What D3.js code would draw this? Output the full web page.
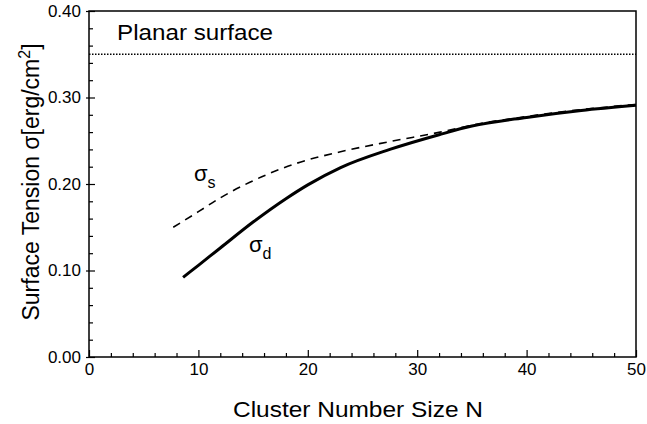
<!DOCTYPE html>
<head>
    <meta charset="utf-8">
    <script src="https://d3js.org/d3.v7.min.js"></script>
    <style>
        body { margin: 0; background: #fff; }
        text { font-family: 'Liberation Sans', Arial, sans-serif; fill: #000; }
    </style>
</head>
<body>
<script>
    // values
    var sigmaD_N = [8.6, 10, 12, 15, 18, 20, 23, 27.5, 32, 35, 40, 45, 50];
    var sigmaD = [0.092, 0.106, 0.126, 0.156, 0.183, 0.199, 0.219, 0.240, 0.257, 0.267, 0.277, 0.285, 0.291];
    var sigmaS_N = [7.7, 10, 12.0, 14.7, 19.0, 22.9, 27.5, 32.1, 35, 40, 45, 50];
    var sigmaS = [0.150, 0.168, 0.184, 0.202, 0.224, 0.237, 0.249, 0.260, 0.268, 0.278, 0.286, 0.292];
    var planar = 0.35;
    var xTicks = [0, 10, 20, 30, 40, 50];
    var yTicks = [0, 0.1, 0.2, 0.3, 0.4];

    var width = 647, height = 424;
    var mLeft = 89, mRight = 636, mTop = 11, mBottom = 357;

    var svg = d3.select("body").append("svg")
        .attr("width", width)
        .attr("height", height);

    var x = d3.scaleLinear().domain([0, 50]).range([mLeft, mRight]);
    var y = d3.scaleLinear().domain([0, 0.4]).range([mBottom, mTop]);

    // frame
    svg.append("rect")
        .attr("x", mLeft).attr("y", mTop)
        .attr("width", mRight - mLeft).attr("height", mBottom - mTop)
        .attr("fill", "none").attr("stroke", "#000").attr("stroke-width", 1.5);

    // bottom axis (ticks inside)
    var xAxis = svg.append("g").attr("transform", "translate(0," + mBottom + ")")
        .call(d3.axisBottom(x).tickValues(xTicks).tickSize(-7).tickPadding(6).tickFormat(d3.format("d")));
    svg.append("g").attr("transform", "translate(0," + mBottom + ")")
        .call(d3.axisBottom(x).tickValues(d3.range(2, 50, 2).filter(function (d) { return d % 10; }))
            .tickSize(-4).tickFormat(""))
        .select(".domain").remove();
    xAxis.select(".domain").remove();
    xAxis.selectAll("text").style("font-size", "17px").style("font-family", "'Liberation Sans', Arial, sans-serif");

    // left axis
    var yAxis = svg.append("g").attr("transform", "translate(" + mLeft + ",0)")
        .call(d3.axisLeft(y).tickValues(yTicks).tickSize(4).tickPadding(4).tickFormat(d3.format(".2f")));
    yAxis.selectAll(".tick line").attr("x2", 6).attr("x1", -3);
    yAxis.select(".domain").remove();
    yAxis.selectAll("text").style("font-size", "17px").style("font-family", "'Liberation Sans', Arial, sans-serif");
    svg.append("g").attr("transform", "translate(" + mLeft + ",0)")
        .call(d3.axisLeft(y).tickValues(d3.range(0.02, 0.4, 0.02).filter(function (d) { return Math.round(d * 100) % 10; }))
            .tickSize(-4).tickFormat(""))
        .select(".domain").remove();

    svg.selectAll(".tick line").attr("stroke-width", 1.2);

    // planar surface line
    svg.append("line")
        .attr("x1", mLeft).attr("x2", mRight)
        .attr("y1", y(planar)).attr("y2", y(planar))
        .attr("stroke", "#000").attr("stroke-width", 1.5)
        .attr("stroke-dasharray", "1.5,1.5");
    svg.append("text").attr("x", 117).attr("y", 40)
        .attr("textLength", 156).attr("lengthAdjust", "spacingAndGlyphs")
        .style("font-size", "22px").text("Planar surface");

    var line = d3.line().curve(d3.curveMonotoneX)
        .x(function (d) { return x(d[0]); })
        .y(function (d) { return y(d[1]); });

    svg.append("path")
        .datum(d3.zip(sigmaS_N, sigmaS))
        .attr("d", line)
        .attr("fill", "none").attr("stroke", "#000").attr("stroke-width", 1.6)
        .attr("stroke-dasharray", "8,6");

    svg.append("path")
        .datum(d3.zip(sigmaD_N, sigmaD))
        .attr("d", line)
        .attr("fill", "none").attr("stroke", "#000").attr("stroke-width", 3);

    // curve labels
    var ls = svg.append("text").attr("x", 194).attr("y", 181).style("font-size", "22px");
    ls.append("tspan").text("σ");
    ls.append("tspan").attr("dy", 7).style("font-size", "16px").text("s");
    var ld = svg.append("text").attr("x", 249).attr("y", 252).style("font-size", "22px");
    ld.append("tspan").text("σ");
    ld.append("tspan").attr("dy", 7).style("font-size", "16px").text("d");

    // axis titles
    svg.append("text").attr("x", 233).attr("y", 417)
        .attr("textLength", 250).attr("lengthAdjust", "spacingAndGlyphs")
        .style("font-size", "22px")
        .text("Cluster Number Size N");

    var yt = svg.append("text")
        .attr("transform", "translate(39," + 182 + ") rotate(-90)")
        .attr("text-anchor", "middle").style("font-size", "23px");
    yt.append("tspan").text("Surface Tension σ[erg/cm");
    yt.append("tspan").attr("dy", -9).style("font-size", "16px").text("2");
    yt.append("tspan").attr("dy", 9).text("]");
</script>
</body>
</html>
